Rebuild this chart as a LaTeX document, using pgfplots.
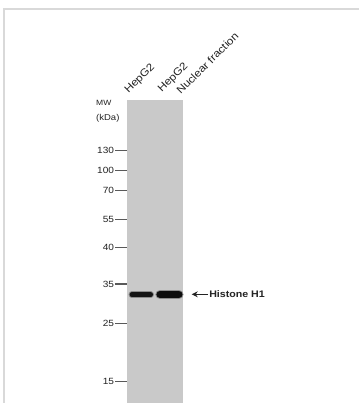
\documentclass[border=0pt]{standalone}
\usepackage{pgfplots}
\pgfplotsset{compat=1.18}
\usepackage{fontspec}
\setmainfont{Liberation Sans}[FakeStretch=1.12]
\usetikzlibrary{arrows.meta}
\definecolor{gel}{RGB}{201,201,201}
\definecolor{framec}{RGB}{217,217,217}
\definecolor{ink}{RGB}{35,35,35}
\begin{document}
\begin{tikzpicture}
\useasboundingbox[fill=white] (0,0) rectangle (359pt,-403pt);
\draw[framec, line width=1.7pt] (3.7pt,-403pt) -- (3.7pt,-8.8pt) -- (359pt,-8.8pt);
\begin{axis}[
  at={(126.7pt,-100pt)}, anchor=north west,
  scale only axis, width=56.6pt, height=303pt,
  xmin=0, xmax=2, ymin=0, ymax=303, y dir=reverse,
  axis x line=none, axis y line*=left,
  y axis line style={draw=none},
  axis background/.style={fill=gel},
  ytick={50.7,70.7,90.7,119.3,147.3,184,223.3,281.7},
  yticklabels={130,100,70,55,40,35,25,15},
  tick align=outside, major tick length=11.5pt,
  tick style={line width=1.3pt, black!65},
  yticklabel style={font=\fontsize{9}{10}\selectfont, text=ink, inner sep=1pt},
  clip=false,
]
% bands (lane, migration position)
\addplot[no marks, line width=6.5pt, line cap=round, color=black!45] coordinates {(0.18,194.7) (0.85,194.7)};
\addplot[no marks, line width=4.5pt, line cap=round, color=black!92] coordinates {(0.18,194.7) (0.85,194.7)};
\addplot[no marks, line width=9.5pt, line cap=round, color=black!45] coordinates {(1.18,194.5) (1.84,194.5)};
\addplot[no marks, line width=7.5pt, line cap=round, color=black!95] coordinates {(1.18,194.5) (1.84,194.5)};

\node[anchor=west, inner sep=0, font=\fontsize{7.6}{10}\selectfont, text=ink] at (axis cs:-1.085,3.3) {MW};
\node[anchor=west, inner sep=0, font=\fontsize{8.5}{10}\selectfont, text=ink] at (axis cs:-1.085,18) {(kDa)};

\node[anchor=base west, inner sep=0, rotate=45, font=\fontsize{10.5}{12}\selectfont, text=ink] at (axis cs:0.06,-6) {HepG2};
\node[anchor=base west, inner sep=0, rotate=45, align=left, font=\fontsize{10.5}{14.8}\selectfont, text=ink] at (axis cs:1.611,3.6) {HepG2\\\hspace*{12pt}Nuclear fraction};

\draw[-{Stealth[length=6pt,width=6pt]}, line width=1.4pt, ink] (axis cs:2.873,194.3) -- (axis cs:2.297,194.3);
\node[anchor=west, inner sep=0, font=\bfseries\fontsize{9.5}{11}\selectfont, text=ink] at (axis cs:2.91,194.3) {Histone H1};
\end{axis}
\end{tikzpicture}
\end{document}
